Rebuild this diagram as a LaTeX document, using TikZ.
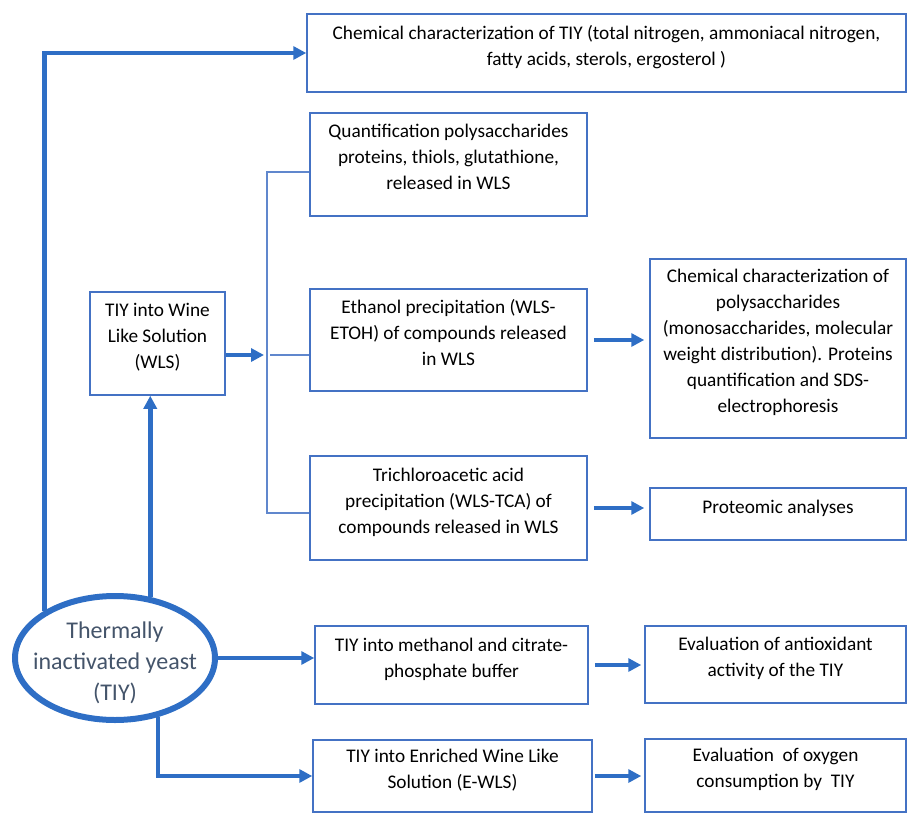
\documentclass[tikz,border=0pt]{standalone}
\usepackage{fontspec}
\setmainfont{Carlito}
\usetikzlibrary{shapes.geometric,arrows.meta}
\definecolor{boxblue}{RGB}{68,114,196}
\definecolor{arrblue}{RGB}{46,110,197}
\definecolor{slate}{RGB}{68,84,106}
\newcommand\bxt[1]{\raisebox{6pt}[\height][\depth]{\begin{tabular}{@{}c@{}}#1\end{tabular}}}
\newcommand\elt[1]{\raisebox{-12pt}[0pt][0pt]{\makebox[0pt]{\begin{tabular}{@{}c@{}}#1\end{tabular}}}}
\tikzset{
  box/.style={draw=boxblue,line width=1.5pt,rectangle,inner sep=0pt,
    font=\fontsize{19.3}{26}\selectfont,text=black},
  arr/.style={draw=arrblue,line width=4.5pt,-{Triangle[length=13pt,width=13pt]}},
  thinline/.style={draw=boxblue!85,line width=1.5pt},
}
\begin{document}
\begin{tikzpicture}[x=1pt,y=-1pt]
\useasboundingbox (0,0) rectangle (908,814);
\node[box,minimum width=599,minimum height=78] (top) at (606.5,53)
  {\bxt{Chemical characterization of TIY (total nitrogen, ammoniacal nitrogen,\\fatty acids, sterols, ergosterol )}};
\node[box,minimum width=277,minimum height=103] (quant) at (448.5,164.5)
  {\bxt{Quantification polysaccharides\\proteins, thiols, glutathione,\\released in WLS}};
\node[box,minimum width=135,minimum height=103] (wls) at (157.5,343.5)
  {\bxt{TIY into Wine\\Like Solution\\(WLS)}};
\node[box,minimum width=277,minimum height=102] (eth) at (448.5,340)
  {\bxt{Ethanol precipitation (WLS-\\ETOH) of compounds released\\in WLS}};
\node[box,minimum width=256,minimum height=179] (chem) at (778,348.5)
  {\bxt{Chemical characterization of\\polysaccharides\\(monosaccharides, molecular\\weight distribution). Proteins\\quantification and SDS-\\electrophoresis}};
\node[box,minimum width=277,minimum height=104] (tca) at (448.5,508)
  {\bxt{Trichloroacetic acid\\precipitation (WLS-TCA) of\\compounds released in WLS}};
\node[box,minimum width=256,minimum height=52] (prot) at (778,514)
  {\bxt{Proteomic analyses}};
\node[box,minimum width=273,minimum height=78] (meth) at (451.5,665)
  {\bxt{TIY into methanol and citrate-\\phosphate buffer}};
\node[box,minimum width=261,minimum height=77] (anti) at (775.5,664.5)
  {\bxt{Evaluation of antioxidant\\activity of the TIY}};
\node[box,minimum width=279,minimum height=72] (enr) at (452.5,776)
  {\bxt{TIY into Enriched Wine Like\\Solution (E-WLS)}};
\node[box,minimum width=261,minimum height=73] (oxy) at (775.5,775.5)
  {\bxt{Evaluation\ \ of oxygen\\consumption by\ \ TIY}};
\node[draw=arrblue,line width=6pt,ellipse,minimum width=200,minimum height=124,inner sep=0pt,
  text=slate,font=\fontsize{24}{31}\selectfont] (tiy) at (115,658)
  {\elt{Thermally\\inactivated yeast\\(TIY)}};
% bracket
\coordinate (b1) at (267,172);
\coordinate (b2) at (270,355);
\coordinate (b2a) at (264,355);
\coordinate (b3) at (267,513);
\draw[thinline] (b1 -| quant.west) -- (b1) -- (b3) -- (b3 -| tca.west);
\draw[thinline] (b2) -- (b2 -| eth.west);
% arrows
\draw[arr] (tiy.146) -- (tiy.146 |- top.west) -- (top.west);
\draw[arr] (tiy.60) -- (tiy.60 |- wls.south);
\draw[arr] (wls.east |- b2a) -- (b2a);
\draw[arr,shorten <=6pt,shorten >=5pt] (eth.east) -- (eth.east -| chem.west);
\draw[arr,shorten <=6pt,shorten >=5pt] (tca.east) -- (tca.east -| prot.west);
\draw[arr] (tiy.east) -- (tiy.east -| meth.west);
\draw[arr,shorten <=6pt,shorten >=3pt] (meth.east) -- (meth.east -| anti.west);
\draw[arr] (tiy.-54) |- (enr.west);
\draw[arr,shorten <=2pt,shorten >=3pt] (enr.east) -- (enr.east -| oxy.west);
\end{tikzpicture}
\end{document}
